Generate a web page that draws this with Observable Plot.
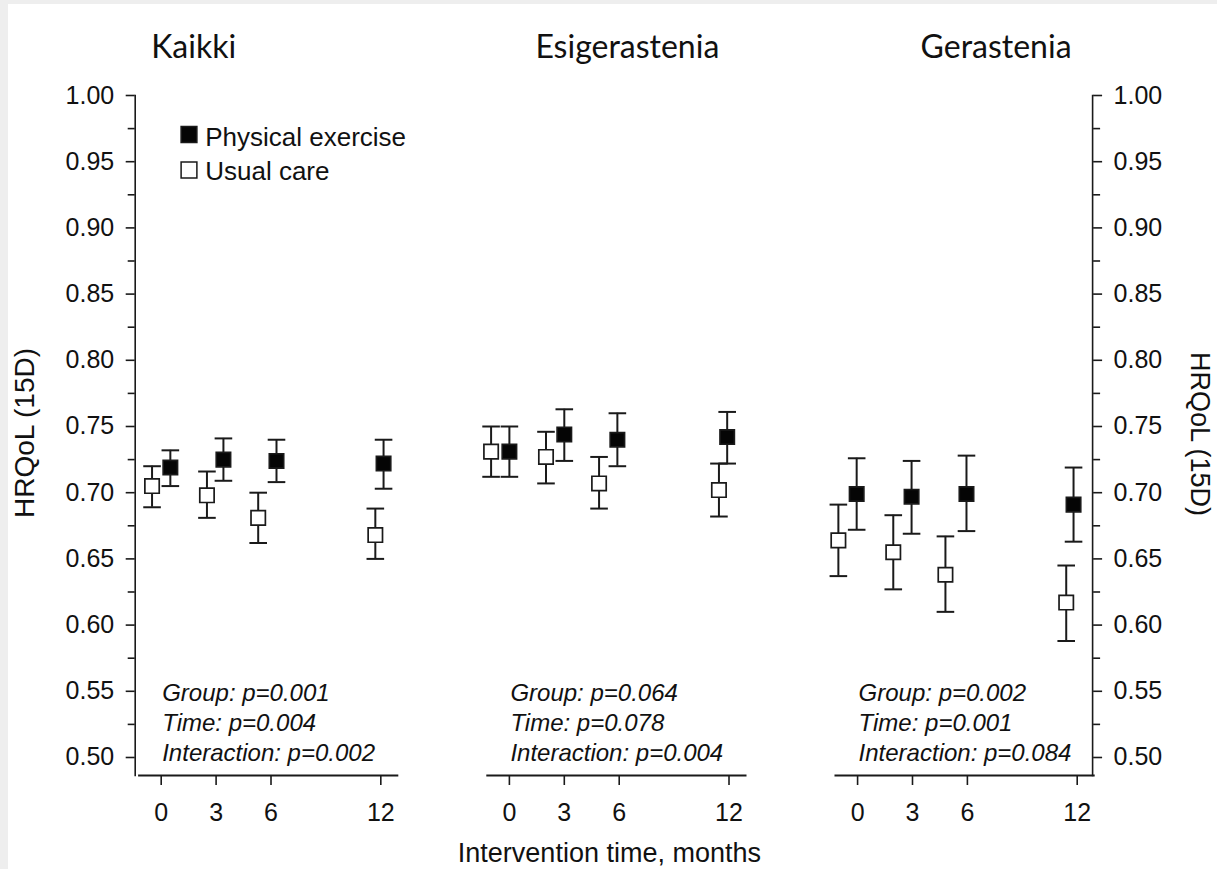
<!DOCTYPE html>
<html>
<head>
<meta charset="utf-8">
<script src="https://cdn.jsdelivr.net/npm/d3@7"></script>
<script src="https://cdn.jsdelivr.net/npm/@observablehq/plot@0.6"></script>
<style>
  html, body { margin: 0; padding: 0; background: #eeeeee; }
  #chart { position: absolute; left: 8px; top: 4px; width: 1209px; height: 865px; background: #ffffff; }
</style>
</head>
<body>
<div id="chart"></div>
<script>
// Panels (subgroups) and measurement times
const panels = ["Kaikki", "Esigerastenia", "Gerastenia"];
const months = [0, 3, 6, 12];
const groups = ["Physical exercise", "Usual care"];

// Plotted time positions (the two groups are slightly dodged around each time point)
const timePE = [[0.5, 3.4, 6.3, 12.15], [0, 3, 5.9, 11.9], [-0.05, 2.95, 5.95, 11.8]];
const timeUC = [[-0.5, 2.5, 5.3, 11.7], [-1, 2, 4.9, 11.45], [-1.05, 1.95, 4.8, 11.4]];

// HRQoL (15D) means with 95% confidence limits — physical exercise
const meanPE = [[0.719, 0.725, 0.724, 0.722], [0.731, 0.744, 0.740, 0.742], [0.699, 0.697, 0.699, 0.691]];
const lowPE  = [[0.705, 0.709, 0.708, 0.703], [0.712, 0.724, 0.720, 0.722], [0.672, 0.669, 0.671, 0.663]];
const highPE = [[0.732, 0.741, 0.740, 0.740], [0.750, 0.763, 0.760, 0.761], [0.726, 0.724, 0.728, 0.719]];

// Usual care
const meanUC = [[0.705, 0.698, 0.681, 0.668], [0.731, 0.727, 0.707, 0.702], [0.664, 0.655, 0.638, 0.617]];
const lowUC  = [[0.689, 0.681, 0.662, 0.650], [0.712, 0.707, 0.688, 0.682], [0.637, 0.627, 0.610, 0.588]];
const highUC = [[0.720, 0.716, 0.700, 0.688], [0.750, 0.746, 0.727, 0.722], [0.691, 0.683, 0.667, 0.645]];

// Test results per panel
const groupP = ["0.001", "0.064", "0.002"];
const timeP = ["0.004", "0.078", "0.001"];
const interactionP = ["0.002", "0.004", "0.084"];

// Axis ticks
const xTicks = [0, 3, 6, 12];
const yTicks = [0.50, 0.55, 0.60, 0.65, 0.70, 0.75, 0.80, 0.85, 0.90, 0.95, 1.00];
const yMinorTicks = [0.525, 0.575, 0.625, 0.675, 0.725, 0.775, 0.825, 0.875, 0.925, 0.975];
const yTitle = "HRQoL (15D)";
const xTitle = "Intervention time, months";

// Long table built from the arrays above
const rows = [];
panels.forEach((panel, i) => {
  months.forEach((m, j) => {
    rows.push({panel, group: groups[0], month: m, t: timePE[i][j], mean: meanPE[i][j], lo: lowPE[i][j], hi: highPE[i][j]});
    rows.push({panel, group: groups[1], month: m, t: timeUC[i][j], mean: meanUC[i][j], lo: lowUC[i][j], hi: highUC[i][j]});
  });
});
const rowsPE = rows.filter(d => d.group === groups[0]);
const rowsUC = rows.filter(d => d.group === groups[1]);

const ink = "#1a1a1a";
const sans = "'Liberation Sans', Arial, Helvetica, sans-serif";

// Horizontal cap used for the error-bar ends
const cap = {
  draw(context, size) {
    const w = Math.sqrt(size / Math.PI);
    context.moveTo(-w, 0);
    context.lineTo(w, 0);
  }
};

const chart = Plot.plot({
  width: 1209,
  height: 865,
  marginTop: 91,
  marginBottom: 94,
  marginLeft: 130.7,
  marginRight: 123.9,
  style: {fontFamily: sans, fontSize: "25px", background: "#ffffff", color: "#111", overflow: "visible"},
  fx: {domain: panels, paddingInner: 0.259, paddingOuter: 0, round: false, axis: null, label: null},
  x: {domain: [-1.202, 12.896], axis: null},
  y: {domain: [0.4864, 1.0], axis: null},
  marks: [
    // axis lines
    Plot.frame({anchor: "bottom", stroke: ink, strokeWidth: 2.2}),
    Plot.frame({anchor: "left", facetAnchor: "left", dx: -4, stroke: ink, strokeWidth: 1.6}),
    Plot.frame({anchor: "right", facetAnchor: "right", dx: -1, stroke: ink, strokeWidth: 1.6}),

    // y axes, left and right, with minor ticks
    Plot.axisY(yTicks, {anchor: "left", dx: -4, tickSize: 9, tickPadding: 12, tickFormat: d3.format(".2f"), fontSize: 25, stroke: ink, strokeWidth: 1.6, label: null}),
    Plot.axisY(yMinorTicks, {anchor: "left", dx: -4, tickSize: 7, tickFormat: () => "", stroke: ink, strokeWidth: 1.6, label: null}),
    Plot.axisY(yTicks, {anchor: "right", dx: -1, tickSize: 9, tickPadding: 12, tickFormat: d3.format(".2f"), fontSize: 25, stroke: ink, strokeWidth: 1.6, label: null}),
    Plot.axisY(yMinorTicks, {anchor: "right", dx: -1, tickSize: 7, tickFormat: () => "", stroke: ink, strokeWidth: 1.6, label: null}),

    // x axis of each panel
    Plot.axisX(xTicks, {anchor: "bottom", tickSize: 10, tickPadding: 18, fontSize: 25, stroke: ink, strokeWidth: 1.6, label: null}),

    // axis titles
    Plot.text([yTitle], {frameAnchor: "left", facetAnchor: "left", rotate: -90, textAnchor: "middle", lineAnchor: "middle", dx: -114.4, dy: -2.5, fontSize: 28}),
    Plot.text([yTitle], {frameAnchor: "right", facetAnchor: "right", rotate: 90, textAnchor: "middle", lineAnchor: "middle", dx: 106, dy: -1.5, fontSize: 27}),
    Plot.text([xTitle], {fx: [panels[1]], frameAnchor: "bottom", dx: -7, dy: 86, fontSize: 27}),

    // panel titles
    Plot.text([panels[0]], {fx: d => d, frameAnchor: "top-left", textAnchor: "start", lineAnchor: "middle", dx: 12, dy: -48, fontFamily: "Lato", fontSize: 32}),
    Plot.text([panels[1]], {fx: d => d, frameAnchor: "top-left", textAnchor: "start", lineAnchor: "middle", dx: 48, dy: -48, fontFamily: "Lato", fontSize: 32}),
    Plot.text([panels[2]], {fx: d => d, frameAnchor: "top-left", textAnchor: "start", lineAnchor: "middle", dx: 85, dy: -48, fontFamily: "Lato", fontSize: 32}),

    // statistical test results
    Plot.text(panels, {
      fx: d => d,
      text: (d, i) => `Group: p=${groupP[i]}\nTime: p=${timeP[i]}\nInteraction: p=${interactionP[i]}`,
      frameAnchor: "bottom-left", textAnchor: "start", lineAnchor: "bottom",
      lineHeight: 1.23, dx: 23, dy: -15, fontStyle: "italic", fontSize: 24
    }),

    // legend (first panel)
    Plot.dot([groups[0]], {frameAnchor: "top-left", facetAnchor: "left", dx: 49.8, dy: 39, symbol: "square", r: 8.9, fill: "#050505", stroke: ink, strokeWidth: 1.5}),
    Plot.dot([groups[1]], {frameAnchor: "top-left", facetAnchor: "left", dx: 49.8, dy: 74.5, symbol: "square", r: 8.9, fill: "#ffffff", stroke: ink, strokeWidth: 1.5}),
    Plot.text([groups[0]], {frameAnchor: "top-left", facetAnchor: "left", textAnchor: "start", lineAnchor: "middle", dx: 66, dy: 42, fontSize: 26}),
    Plot.text([groups[1]], {frameAnchor: "top-left", facetAnchor: "left", textAnchor: "start", lineAnchor: "middle", dx: 66, dy: 76.5, fontSize: 26}),

    // confidence intervals
    Plot.ruleX(rows, {fx: "panel", x: "t", y1: "lo", y2: "hi", stroke: ink, strokeWidth: 2}),
    Plot.dot(rows, {fx: "panel", x: "t", y: "hi", r: 8.8, symbol: cap, fill: "none", stroke: ink, strokeWidth: 2}),
    Plot.dot(rows, {fx: "panel", x: "t", y: "lo", r: 8.8, symbol: cap, fill: "none", stroke: ink, strokeWidth: 2}),

    // group means
    Plot.dot(rowsUC, {fx: "panel", x: "t", y: "mean", r: 8.1, symbol: "square", fill: "#ffffff", stroke: ink, strokeWidth: 1.7}),
    Plot.dot(rowsPE, {fx: "panel", x: "t", y: "mean", r: 8.1, symbol: "square", fill: "#050505", stroke: ink, strokeWidth: 1.7})
  ]
});

document.getElementById("chart").appendChild(chart);
</script>
</body>
</html>
